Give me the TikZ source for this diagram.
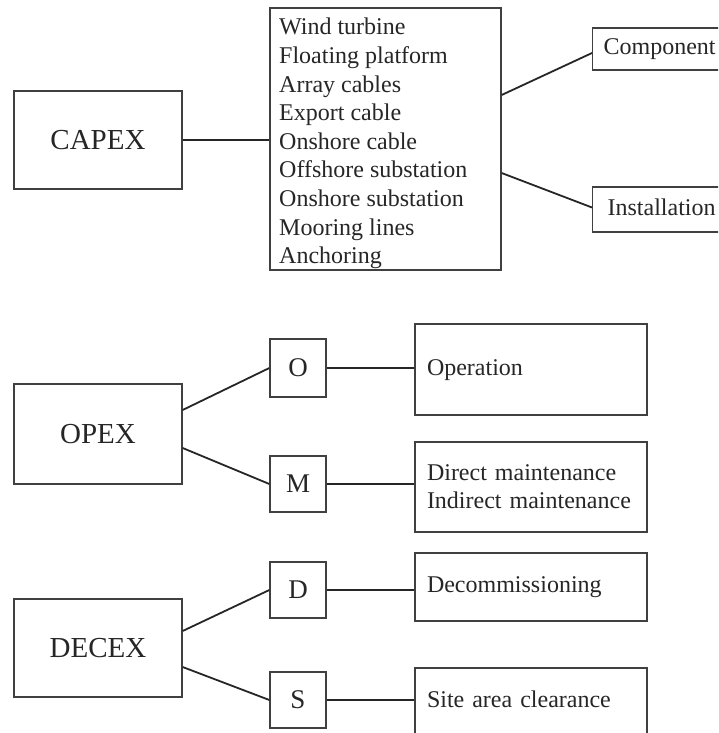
\documentclass[tikz,border=0pt]{standalone}
\usepackage{fontspec}
\setmainfont{Liberation Serif}
\usetikzlibrary{calc}
\tikzset{
  box/.style={draw=black!75, line width=1.3pt, rectangle, inner sep=0pt, text=black!85},
  bigtxt/.style={font=\fontsize{29}{34}\selectfont, text height=19.2pt, text depth=0pt},
  lettertxt/.style={font=\fontsize{27}{32}\selectfont, text height=17.9pt, text depth=0pt},
  smalltxt/.style={font=\fontsize{24}{28}\selectfont},
  onelinetxt/.style={text height=16.4pt, text depth=5.2pt},
  widebox/.style={box, smalltxt, align=left, text width=208pt, inner xsep=12pt, minimum width=232pt},
  link/.style={draw=black!85, line width=1.8pt},
}
\begin{document}
\begin{tikzpicture}[x=1pt,y=-1pt]
\useasboundingbox (0,0) rectangle (718,733);
\clip (0,0) rectangle (718,733);

% CAPEX part
\node[box, bigtxt, minimum width=168pt, minimum height=98pt] (capex) at (98,140) {CAPEX};
\node[box, minimum width=231pt, minimum height=262pt] (list) at (385.5,139) {};
\node[anchor=base west, inner sep=0pt, text=black!85] (listtxt) at (279,35)
  {\parbox[t]{215pt}{\fontsize{24}{28.6}\selectfont Wind turbine\\
   Floating platform\\ Array cables\\ Export cable\\ Onshore cable\\
   Offshore substation\\ Onshore substation\\ Mooring lines\\ Anchoring}};
\node[box, smalltxt, onelinetxt, anchor=west, align=left, text width=118pt, inner xsep=11pt,
      minimum width=140pt, minimum height=42pt] (comp) at (592,49) {Component};
\node[box, smalltxt, onelinetxt, anchor=west, align=left, text width=110pt, inner xsep=15pt,
      minimum width=140pt, minimum height=45pt] (inst) at (592,209.5) {Installation};

\draw[link] (capex.east) -- (capex.east -| list.west);
\draw[link] ($(list.east)+(0,-44)$) -- ($(comp.west)+(0,4)$);
\draw[link] ($(list.east)+(0,34)$) -- ($(inst.west)+(0,-2)$);

% OPEX part
\node[box, bigtxt, minimum width=168pt, minimum height=100pt] (opex) at (98,434) {OPEX};
\node[box, lettertxt, minimum width=56pt, minimum height=58pt] (o) at (298,368) {O};
\node[box, lettertxt, minimum width=56pt, minimum height=56pt] (m) at (298,484) {M};
\node[widebox, onelinetxt, minimum height=91pt] (oper) at (531,369.5) {Operation};
\node[widebox, minimum height=90pt] (dm) at (531,487) {Direct maintenance\\Indirect maintenance};

\draw[link] ($(opex.east)+(0,-24)$) -- (o.west);
\draw[link] ($(opex.east)+(0,14)$) -- (m.west);
\draw[link] (o.east) -- (o.east -| oper.west);
\draw[link] (m.east) -- (m.east -| dm.west);

% DECEX part
\node[box, bigtxt, minimum width=168pt, minimum height=98pt] (decex) at (98,648) {DECEX};
\node[box, lettertxt, minimum width=56pt, minimum height=56pt] (d) at (298,590) {D};
\node[box, lettertxt, minimum width=56pt, minimum height=56pt] (s) at (298,700) {S};
\node[widebox, onelinetxt, minimum height=68pt] (decom) at (531,587) {Decommissioning};
\node[widebox, onelinetxt, minimum height=67pt] (site) at (531,701.5) {Site area clearance};

\draw[link] ($(decex.east)+(0,-17)$) -- (d.west);
\draw[link] ($(decex.east)+(0,19)$) -- (s.west);
\draw[link] (d.east) -- (d.east -| decom.west);
\draw[link] (s.east) -- (s.east -| site.west);
\end{tikzpicture}
\end{document}
